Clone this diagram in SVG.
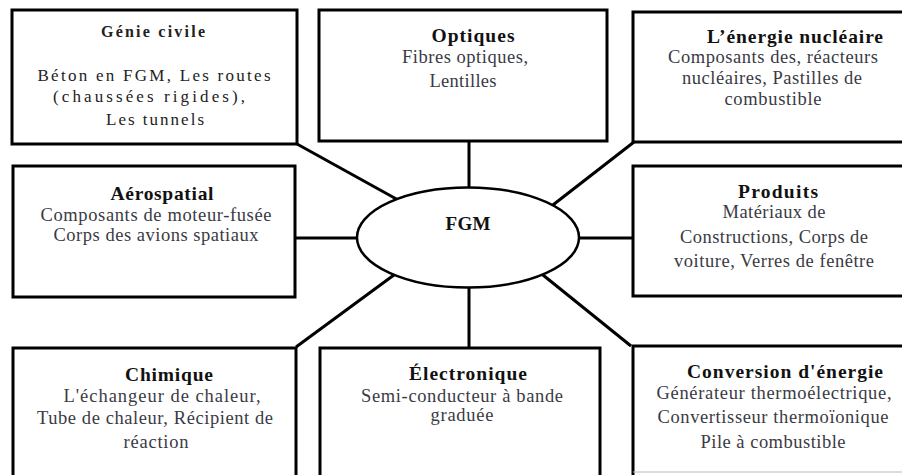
<svg xmlns="http://www.w3.org/2000/svg" width="902" height="475" viewBox="0 0 902 475">
<style>
.box{fill:#fff;stroke:#000;stroke-width:3}
.conn line{stroke:#000;stroke-width:3}
text{font-family:"Liberation Serif","Times New Roman",serif;font-size:18.5px;text-anchor:middle;fill:#3a3a44}
.t{font-weight:bold;fill:#111;font-size:19.5px}
.gc{font-size:17px;fill:#222}
</style>
<rect width="902" height="475" fill="#fff"/>
<g id="connectors" class="conn">
<line x1="297" y1="144" x2="400" y2="201"/>
<line x1="469" y1="142" x2="469" y2="195"/>
<line x1="634" y1="142" x2="549" y2="208"/>
<line x1="295" y1="238" x2="365" y2="238"/>
<line x1="571" y1="238" x2="633" y2="238"/>
<line x1="296" y1="347" x2="398" y2="272"/>
<line x1="469" y1="280" x2="469" y2="348"/>
<line x1="631" y1="346" x2="538" y2="271"/>
</g>
<g id="genie-civile">
<rect class="box" x="12" y="10" width="285" height="134"/>
<text class="gc t" x="153" y="37" style="font-size:16px" textLength="104" lengthAdjust="spacing">Génie civile</text>
<text class="gc" x="154" y="81" textLength="233" lengthAdjust="spacing">Béton en FGM, Les routes</text>
<text class="gc" x="149" y="102" textLength="192" lengthAdjust="spacing">(chaussées rigides),</text>
<text class="gc" x="155" y="125" textLength="98" lengthAdjust="spacing">Les tunnels</text>
</g>
<g id="optiques">
<rect class="box" x="319" y="10" width="288" height="131"/>
<text class="t" x="473" y="42" textLength="83" lengthAdjust="spacing">Optiques</text>
<text x="465" y="63" textLength="126" lengthAdjust="spacing">Fibres optiques,</text>
<text x="463" y="87" textLength="67" lengthAdjust="spacing">Lentilles</text>
</g>
<g id="energie-nucleaire">
<rect class="box" x="633" y="12" width="290" height="130"/>
<text class="t" x="795" y="43" textLength="176" lengthAdjust="spacing">L’énergie nucléaire</text>
<text x="773" y="63" textLength="210" lengthAdjust="spacing">Composants des, réacteurs</text>
<text x="772" y="84" textLength="180" lengthAdjust="spacing">nucléaires, Pastilles de</text>
<text x="773" y="105" textLength="97" lengthAdjust="spacing">combustible</text>
</g>
<g id="aerospatial">
<rect class="box" x="13" y="166" width="282" height="131"/>
<text class="t" x="162" y="200" textLength="103" lengthAdjust="spacing">Aérospatial</text>
<text x="156" y="221" textLength="231" lengthAdjust="spacing">Composants de moteur-fusée</text>
<text x="156" y="241" textLength="205" lengthAdjust="spacing">Corps des avions spatiaux</text>
</g>
<g id="produits">
<rect class="box" x="633" y="166" width="290" height="130"/>
<text class="t" x="778" y="198" textLength="80" lengthAdjust="spacing">Produits</text>
<text x="774" y="218" textLength="103" lengthAdjust="spacing">Matériaux de</text>
<text x="774" y="243" textLength="188" lengthAdjust="spacing">Constructions, Corps de</text>
<text x="774" y="267" textLength="200" lengthAdjust="spacing">voiture, Verres de fenêtre</text>
</g>
<g id="chimique">
<rect class="box" x="13" y="348" width="283" height="150"/>
<text class="t" x="169" y="381" textLength="88" lengthAdjust="spacing">Chimique</text>
<text x="162" y="402" textLength="197" lengthAdjust="spacing">L'échangeur de chaleur,</text>
<text x="155" y="424" textLength="236" lengthAdjust="spacing">Tube de chaleur, Récipient de</text>
<text x="156" y="448" textLength="65" lengthAdjust="spacing">réaction</text>
</g>
<g id="electronique">
<rect class="box" x="320" y="348" width="280" height="150"/>
<text class="t" x="468" y="380" textLength="118" lengthAdjust="spacing">Électronique</text>
<text x="462" y="402" textLength="202" lengthAdjust="spacing">Semi-conducteur à bande</text>
<text x="462" y="421" textLength="63" lengthAdjust="spacing">graduée</text>
</g>
<g id="conversion-energie">
<path d="M633,500 V346 H910" fill="#fff" stroke="#000" stroke-width="3"/>
<line x1="633" y1="472" x2="902" y2="472" stroke="#bbb" stroke-width="1"/>
<text class="t" x="785" y="378" textLength="196" lengthAdjust="spacing">Conversion d'énergie</text>
<text x="774" y="399" textLength="235" lengthAdjust="spacing">Générateur thermoélectrique,</text>
<text x="773" y="423" textLength="231" lengthAdjust="spacing">Convertisseur thermoïonique</text>
<text x="773" y="448" textLength="145" lengthAdjust="spacing">Pile à combustible</text>
</g>
<g id="fgm">
<ellipse cx="468" cy="237.5" rx="111" ry="50" fill="#fff" stroke="#000" stroke-width="2.5"/>
<text class="t" x="468" y="230" style="font-size:19px" textLength="45" lengthAdjust="spacing">FGM</text>
</g>
</svg>
